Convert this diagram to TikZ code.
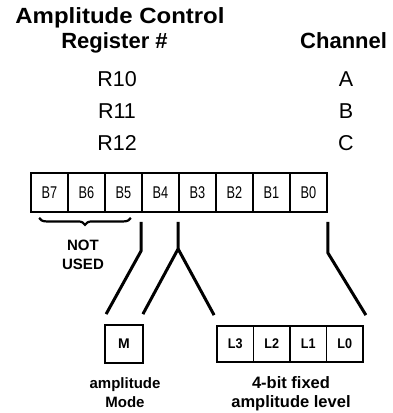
\documentclass[tikz,border=0pt]{standalone}
\usepackage{fontspec}
\usepackage{graphicx}
\setmainfont{Liberation Sans}
\usetikzlibrary{calc,decorations.pathreplacing}
\begin{document}
\begin{tikzpicture}[x=1pt,y=-1pt,
  hdr/.style={font=\fontsize{22}{26}\selectfont\bfseries, inner sep=0pt, anchor=base},
  reg/.style={font=\fontsize{21.5}{26}\selectfont, inner sep=0pt, anchor=base},
  cell/.style={draw, line width=1.8pt, minimum width=37pt, minimum height=39pt, inner sep=0pt, font=\fontsize{17}{20}\selectfont},
  lcell/.style={draw, line width=1.8pt, minimum width=36.5pt, minimum height=36pt, inner sep=0pt, font=\fontsize{14}{16}\selectfont\bfseries},
  conn/.style={line width=3pt},
  note/.style={font=\fontsize{15}{19}\selectfont\bfseries, align=center, inner sep=0pt, anchor=north}]
\useasboundingbox (0,0) rectangle (392,413);
% headings
\node[hdr] (title) at (120,23) {\scalebox{1.09}[1]{Amplitude Control}};
\node[hdr] (regno) at (114.5,48) {Register \#};
\node[hdr, anchor=base west] (chan) at (300,48) {Channel};
\node[reg] (r10) at (117,86) {R10};
\node[reg] (r11) at (117,118) {R11};
\node[reg] (r12) at (117,150) {R12};
\node[reg] (ca) at (346,86) {A};
\node[reg] (cb) at (346,118) {B};
\node[reg] (cc) at (346,150) {C};
% register cells
\node[cell] (b7) at (49.5,192.5) {\scalebox{0.75}[1]{B7}};
\node[cell] (b6) at (86.5,192.5) {\scalebox{0.75}[1]{B6}};
\node[cell] (b5) at (123.5,192.5) {\scalebox{0.75}[1]{B5}};
\node[cell] (b4) at (160.5,192.5) {\scalebox{0.75}[1]{B4}};
\node[cell] (b3) at (197.5,192.5) {\scalebox{0.75}[1]{B3}};
\node[cell] (b2) at (234.5,192.5) {\scalebox{0.75}[1]{B2}};
\node[cell] (b1) at (271.5,192.5) {\scalebox{0.75}[1]{B1}};
\node[cell] (b0) at (308.5,192.5) {\scalebox{0.75}[1]{B0}};
% brace
\draw[decorate, decoration={brace, mirror, amplitude=7pt}, line width=2.2pt]
  ($(b7.south west)+(9,5)$) -- ($(b5.south east)+(-12,5)$);
\node[note] (nu) at (83,240) {NOT\\USED};
% target boxes
\node[cell, minimum width=38pt, minimum height=38pt, font=\fontsize{14}{16}\selectfont\bfseries] (m) at (124,344) {M};
\node[lcell] (l3) at (235.25,344) {\scalebox{0.9}[1]{L3}};
\node[lcell] (l2) at (271.75,344) {\scalebox{0.9}[1]{L2}};
\node[lcell] (l1) at (308.25,344) {\scalebox{0.9}[1]{L1}};
\node[lcell] (l0) at (344.75,344) {\scalebox{0.9}[1]{L0}};
\node[note] (mlab) at (125,377) {amplitude\\Mode};
\node[note, font=\fontsize{16.5}{19}\selectfont\bfseries] (llab) at (291,376) {4-bit fixed\\amplitude level};
% connectors
\coordinate (j4) at ($(b4.south west)+(0,38)$);
\coordinate (j3) at ($(b3.south west)+(0,36)$);
\coordinate (j0) at ($(b0.south east)+(0,40)$);
\draw[conn] ($(b4.south west)+(0,9)$) -- (j4) -- ($(m.north west)+(2,-10)$);
\draw[conn] ($(b3.south west)+(0,9)$) -- (j3) -- ($(m.north east)+(-1,-10)$);
\draw[conn] (j3) -- ($(l3.north west)+(-2,-10)$);
\draw[conn] ($(b0.south east)+(0,9)$) -- (j0) -- ($(l0.north east)+(2,-10)$);
\end{tikzpicture}
\end{document}
